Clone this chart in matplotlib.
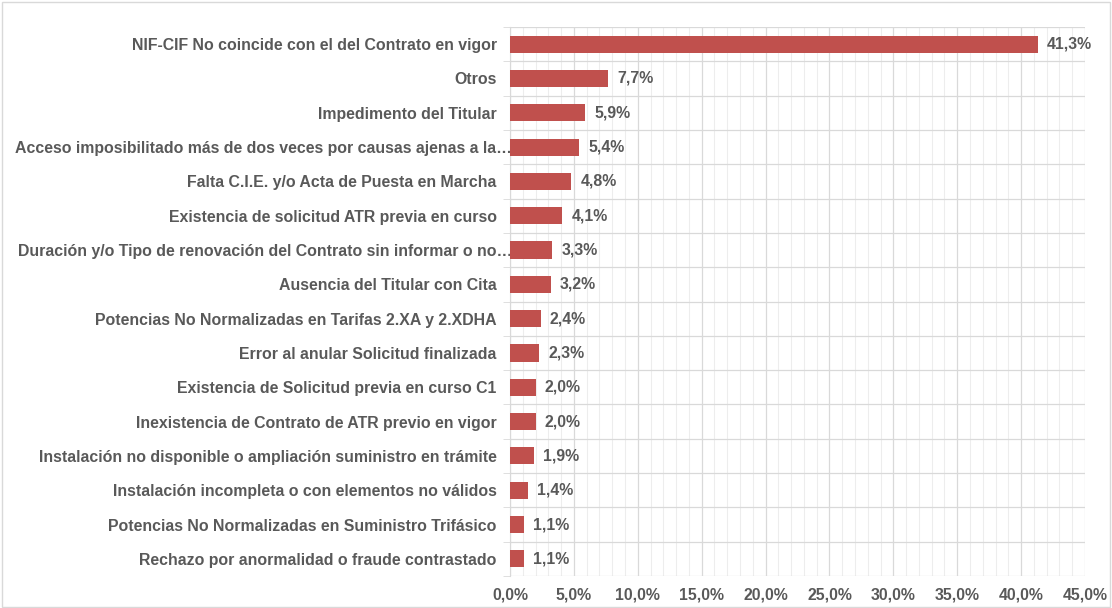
import matplotlib.pyplot as plt
from matplotlib.ticker import MultipleLocator, FuncFormatter
from matplotlib.patches import Rectangle
from matplotlib.transforms import ScaledTranslation

categories = [
    'NIF-CIF No coincide con el del Contrato en vigor',
    'Otros',
    'Impedimento del Titular',
    'Acceso imposibilitado más de dos veces por causas ajenas a la…',
    'Falta C.I.E. y/o Acta de Puesta en Marcha',
    'Existencia de solicitud ATR previa en curso',
    'Duración y/o Tipo de renovación del Contrato sin informar o no…',
    'Ausencia del Titular con Cita',
    'Potencias No Normalizadas en Tarifas 2.XA y 2.XDHA',
    'Error al anular Solicitud finalizada',
    'Existencia de Solicitud previa en curso C1',
    'Inexistencia de Contrato de ATR previo en vigor',
    'Instalación no disponible o ampliación suministro en trámite',
    'Instalación incompleta o con elementos no válidos',
    'Potencias No Normalizadas en Suministro Trifásico',
    'Rechazo por anormalidad o fraude contrastado',
]
values = [41.3, 7.7, 5.9, 5.4, 4.8, 4.1, 3.3, 3.2, 2.4, 2.3, 2.0, 2.0, 1.9, 1.4, 1.1, 1.1]

plt.rcParams['font.family'] = ['Liberation Sans', 'DejaVu Sans']
txt = '#595959'
fs = 11.4

fig = plt.figure(figsize=(11.12, 6.08), dpi=100)
ax = fig.add_axes([510 / 1112, 1 - 576 / 608, 575 / 1112, 549 / 608])

# light border round the whole chart
fig.patches.append(Rectangle((0.0015, 0.002), 0.997, 0.994, transform=fig.transFigure,
                             fill=False, edgecolor='#D9D9D9', linewidth=1))

ypos = list(range(len(categories)))
ax.barh(ypos, values, height=0.5, color='#C0504D', zorder=3)
for y, v in zip(ypos, values):
    ax.text(v + 0.72, y, f'{v:.1f}%'.replace('.', ','), va='center', ha='left',
            fontsize=fs, fontweight='bold', color=txt)

ax.set_ylim(len(categories) - 0.5, -0.5)
ax.set_xlim(0, 45)
ax.xaxis.set_major_locator(MultipleLocator(5))
ax.xaxis.set_minor_locator(MultipleLocator(1))
ax.xaxis.set_major_formatter(FuncFormatter(lambda x, p: f'{x:.1f}%'.replace('.', ',')))

ax.set_yticks(ypos)
ax.set_yticklabels(categories)
ax.set_yticks([y + 0.5 for y in ypos[:-1]] + [-0.5, len(categories) - 0.5], minor=True)

ax.grid(which='major', axis='x', color='#D9D9D9', linewidth=0.9, zorder=0)
ax.grid(which='minor', axis='x', color='#EDEDED', linewidth=0.8, zorder=0)
ax.grid(which='minor', axis='y', color='#D9D9D9', linewidth=0.9, zorder=0)
ax.grid(which='major', axis='y', visible=False)

for s in ['top', 'right', 'bottom']:
    ax.spines[s].set_visible(False)
ax.spines['left'].set_color('#D9D9D9')

ax.tick_params(axis='y', which='major', length=0, pad=9.5, labelsize=fs, labelcolor=txt)
ax.tick_params(axis='y', which='minor', length=5, color='#D9D9D9')
ax.tick_params(axis='x', which='both', length=0, pad=8, labelsize=fs, labelcolor=txt)
for lab in ax.get_xticklabels() + ax.get_yticklabels():
    lab.set_fontweight('bold')

# truncated labels run up to the axis
for lab in ax.get_yticklabels():
    if lab.get_text().endswith('…'):
        lab.set_transform(lab.get_transform() + ScaledTranslation(11 / 72, 0, fig.dpi_scale_trans))

fig.savefig('out.png', dpi=100)
